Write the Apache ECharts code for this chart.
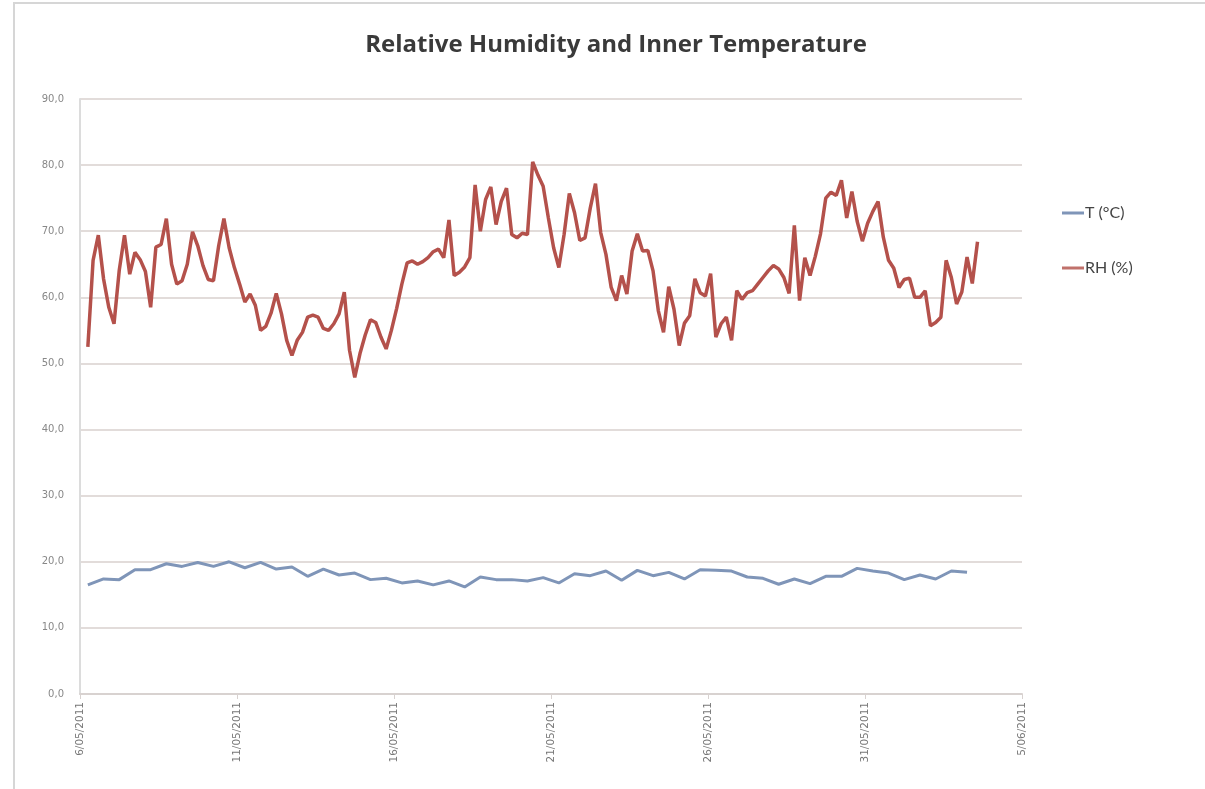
<!DOCTYPE html>
<html>
<head>
<meta charset="utf-8">
<title>Relative Humidity and Inner Temperature</title>
<script src="https://cdn.jsdelivr.net/npm/echarts@6/dist/echarts.min.js"></script>
<style>
  html, body { margin: 0; padding: 0; background: #ffffff; }
  #chart { width: 1205px; height: 789px; }
</style>
</head>
<body>
<div id="chart"></div>
<script>
// Date tick labels, one every 5 days starting 6 May 2011
const dateLabels = ['6/05/2011', '11/05/2011', '16/05/2011', '21/05/2011', '26/05/2011', '31/05/2011', '5/06/2011'];
const dayStep = 5;

// Both logs start at 06:00 on 6 May (day offset 0.25)
const startDay = 0.25;

// Relative humidity (%), logged every 4 hours
const rhStepDays = 1 / 6;
const rhValues = [
  52.5, 65.6, 69.4, 62.8, 58.5, 56.0, 64.1, 69.4, 63.5, 66.8,
  65.7, 63.9, 58.5, 67.6, 68.0, 71.9, 65.0, 62.0, 62.5, 65.0,
  69.9, 67.8, 64.8, 62.7, 62.5, 67.8, 71.9, 67.5, 64.5, 62.0,
  59.3, 60.5, 58.8, 55.0, 55.6, 57.6, 60.6, 57.5, 53.5, 51.2,
  53.5, 54.7, 57.0, 57.3, 57.0, 55.3, 55.0, 56.0, 57.5, 60.8,
  52.0, 47.9, 51.5, 54.3, 56.6, 56.2, 54.0, 52.2, 55.0, 58.3,
  62.0, 65.2, 65.5, 65.0, 65.4, 66.0, 66.9, 67.3, 66.0, 71.7,
  63.3, 63.8, 64.6, 66.0, 77.0, 70.0, 74.8, 76.7, 71.0, 74.5,
  76.5, 69.5, 69.0, 69.7, 69.5, 80.5, 78.5, 76.8, 72.0, 67.5,
  64.5, 69.5, 75.7, 72.8, 68.6, 69.0, 73.5, 77.2, 69.8, 66.5,
  61.5, 59.5, 63.3, 60.5, 67.0, 69.6, 67.0, 67.1, 64.0, 58.0,
  54.7, 61.6, 58.2, 52.7, 56.1, 57.2, 62.8, 60.7, 60.2, 63.6,
  54.0, 56.0, 57.0, 53.5, 61.0, 59.7, 60.7, 61.0, 62.0, 63.0,
  64.0, 64.8, 64.3, 63.0, 60.6, 70.9, 59.5, 66.0, 63.3, 66.2,
  69.6, 75.0, 75.9, 75.4, 77.7, 72.0, 76.0, 71.5, 68.5, 71.2,
  73.0, 74.5, 69.1, 65.6, 64.4, 61.5, 62.7, 62.9, 60.0, 60.0,
  61.0, 55.7, 56.2, 57.0, 65.6, 63.0, 59.0, 60.8, 66.1, 62.1,
  68.4
];

// Inner temperature (°C), logged every 12 hours
const tStepDays = 0.5;
const tValues = [
  16.5, 17.4, 17.3, 18.8, 18.8, 19.7, 19.3, 19.9, 19.3, 20.0,
  19.1, 19.9, 18.9, 19.2, 17.8, 18.9, 18.0, 18.3, 17.3, 17.5,
  16.8, 17.1, 16.5, 17.1, 16.2, 17.7, 17.3, 17.3, 17.1, 17.6,
  16.8, 18.2, 17.9, 18.6, 17.2, 18.7, 17.9, 18.4, 17.4, 18.8,
  18.7, 18.6, 17.7, 17.5, 16.6, 17.4, 16.7, 17.8, 17.8, 19.0,
  18.6, 18.3, 17.3, 18.0, 17.4, 18.6, 18.4
];

const seriesNames = ['T (°C)', 'RH (%)'];

function toTimeSeries(values, step) {
  return values.map((v, i) => [startDay + i * step, v]);
}

const chart = echarts.init(document.getElementById('chart'), null, { renderer: 'canvas' });

chart.setOption({
  animation: false,
  backgroundColor: '#ffffff',
  title: {
    text: 'Relative Humidity and Inner Temperature',
    left: 611,
    top: 28,
    textAlign: 'center',
    textStyle: {
      fontFamily: '"Open Sans", Lato, sans-serif',
      fontWeight: 'bold',
      fontSize: 24,
      color: '#3a3a3a'
    }
  },
  legend: {
    orient: 'vertical',
    left: 1057,
    top: 200,
    itemGap: 39,
    itemWidth: 22,
    itemHeight: 3,
    icon: 'rect',
    data: seriesNames,
    textStyle: {
      fontFamily: 'Lato, "Open Sans", sans-serif',
      fontSize: 16,
      color: '#444444',
      padding: [0, 0, 0, -4]
    }
  },
  grid: {
    left: 80,
    right: 183,
    top: 99,
    bottom: 95,
    containLabel: false
  },
  xAxis: {
    type: 'value',
    min: 0,
    max: (dateLabels.length - 1) * dayStep,
    interval: dayStep,
    axisLine: { show: true, lineStyle: { color: '#d8d2d0', width: 2 } },
    axisTick: { show: true, length: 5, lineStyle: { color: '#d8d2d0' } },
    splitLine: { show: false },
    axisLabel: {
      rotate: 90,
      margin: 8,
      fontFamily: '"DejaVu Sans", sans-serif',
      fontSize: 10.5,
      color: '#777777',
      formatter: (v) => dateLabels[Math.round(v / dayStep)] || ''
    }
  },
  yAxis: {
    type: 'value',
    min: 0,
    max: 90,
    interval: 10,
    axisLine: { show: true, lineStyle: { color: '#dcdcdc', width: 2 } },
    axisTick: { show: false },
    splitLine: { show: true, lineStyle: { color: '#e2dcda', width: 2 } },
    axisLabel: {
      margin: 16,
      fontFamily: '"DejaVu Sans", sans-serif',
      fontSize: 10,
      color: '#888888',
      formatter: (v) => v.toFixed(1).replace('.', ',')
    }
  },
  graphic: [{
    type: 'rect',
    shape: { x: 14, y: 3, width: 1200, height: 800 },
    style: { fill: 'none', stroke: '#d6d6d6', lineWidth: 2 },
    silent: true
  }],
  series: [
    {
      name: seriesNames[0],
      type: 'line',
      data: toTimeSeries(tValues, tStepDays),
      showSymbol: false,
      symbol: 'none',
      lineStyle: { color: '#7f95b8', width: 3 },
      itemStyle: { color: '#7f95b8' }
    },
    {
      name: seriesNames[1],
      type: 'line',
      data: toTimeSeries(rhValues, rhStepDays),
      showSymbol: false,
      symbol: 'none',
      lineStyle: { color: '#b4514b', width: 3.5 },
      itemStyle: { color: '#c0716b' }
    }
  ]
});
</script>
</body>
</html>
